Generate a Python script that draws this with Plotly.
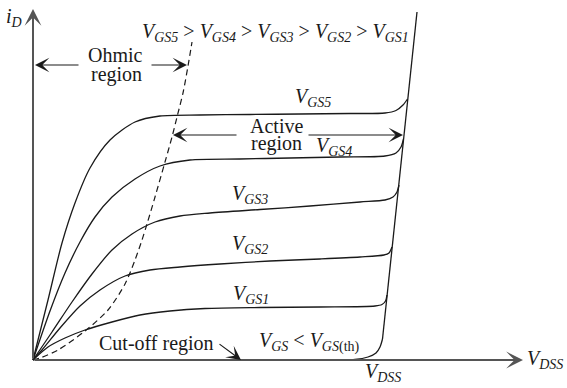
import plotly.graph_objects as go

# Schematic MOSFET output characteristics (V_DS, i_D in arbitrary units)
vgs5_v = [0, 15, 29, 42, 57, 77, 102, 127, 167, 217, 267, 317, 352, 363, 370, 374.5]
vgs5_i = [0, 60, 117, 157, 192, 220, 238, 244, 245, 245.5, 246, 246.5, 247, 249.5, 255, 261]

vgs4_v = [0, 17, 32, 47, 62, 79, 102, 127, 157, 207, 257, 307, 352, 363, 368, 370.5]
vgs4_i = [0, 49, 87, 118, 143, 163, 181, 194, 200, 201, 202, 203, 204, 207, 213, 221]

vgs3_v = [0, 19, 39, 59, 79, 99, 122, 147, 177, 227, 277, 327, 352, 360, 364, 366]
vgs3_i = [0, 28, 58, 86, 110, 126, 138, 144, 147, 150.5, 154, 158, 160, 163, 168, 175]

vgs2_v = [0, 9, 27, 47, 67, 92, 117, 147, 187, 237, 287, 327, 351, 356, 359]
vgs2_i = [0, 10, 32, 54, 70, 84, 90, 93, 96, 99, 101, 103, 105, 107, 113]

vgs1_v = [0, 15, 32, 52, 79, 107, 137, 172, 227, 287, 342, 349, 352.5, 354]
vgs1_i = [0, 13, 22, 30, 38, 45, 49, 51.5, 52.5, 53, 54, 55.5, 59, 65]

cutoff_v = [267, 322, 335, 343, 347, 349.5]
cutoff_i = [0, 0.5, 3, 7, 13, 21]

breakdown_v = [349.5, 384]
breakdown_i = [21, 348]

ohmic_v = [0, 7, 25, 52, 75, 92, 102, 109, 114, 122, 132, 139, 144, 150, 155, 159]
ohmic_i = [0, 2, 10, 29, 50, 76, 100, 120, 136, 163, 198, 223, 243, 267, 294, 318]

axis_x_end = 490
axis_y_end = 351

FONT = "Liberation Serif"
INK = "#1a1a1a"

fig = go.Figure()
curves = [(vgs5_v, vgs5_i), (vgs4_v, vgs4_i), (vgs3_v, vgs3_i),
          (vgs2_v, vgs2_i), (vgs1_v, vgs1_i), (cutoff_v, cutoff_i)]
for xv, yv in curves:
    fig.add_trace(go.Scatter(x=xv, y=yv, mode="lines",
                             line=dict(color=INK, width=1.3, shape="spline", smoothing=0.8),
                             hoverinfo="skip", showlegend=False))
fig.add_trace(go.Scatter(x=breakdown_v, y=breakdown_i, mode="lines",
                         line=dict(color=INK, width=1.3), hoverinfo="skip", showlegend=False))
fig.add_trace(go.Scatter(x=ohmic_v, y=ohmic_i, mode="lines",
                         line=dict(color=INK, width=1.2, dash="6px,4px", shape="spline", smoothing=0.8),
                         hoverinfo="skip", showlegend=False))

ann = []
def arrow(x, y, ax, ay, color=INK, width=1.2, size=2.0):
    ann.append(dict(x=x, y=y, ax=ax, ay=ay, xref="x", yref="y", axref="x", ayref="y",
                    text="", showarrow=True, arrowhead=3, arrowsize=size,
                    arrowwidth=width, arrowcolor=color, standoff=0))

def label(x, y, text, size=20):
    ann.append(dict(x=x, y=y, xref="x", yref="y", text=text, showarrow=False,
                    xanchor="center", yanchor="middle",
                    font=dict(family=FONT, size=size, color=INK)))

# axes
arrow(0, axis_y_end, 0, 0, color="#555555", width=2, size=1.4)
arrow(axis_x_end, 0, 0, 0, color="#555555", width=2, size=1.4)
# region arrows
arrow(2, 295, 47, 295)
arrow(154, 295, 117, 295)
arrow(140, 225, 205, 225)
arrow(370, 225, 274, 225)
arrow(208, 0, 185, 17)

def V(sub):
    return "<i>V</i><sub><i>%s</i></sub>" % sub

label(-19.5, 343, "<i>i</i><sub><i>D</i></sub>")
label(242.5, 328, " > ".join(V("GS%d" % k) for k in [5, 4, 3, 2, 1]))
label(82.5, 305, "Ohmic")
label(83, 286, "region")
label(243.5, 234, "Active")
label(243, 217, "region")
label(279.5, 263, V("GS5"))
label(300.5, 214, V("GS4"))
label(216.5, 166, V("GS3"))
label(216.5, 116, V("GS2"))
label(218, 66, V("GS1"))
label(123, 17, "Cut-off region")
label(276, 18, "<i>V</i><sub><i>GS</i></sub> < <i>V</i><sub><i>GS</i>(th)</sub>")
label(349.5, -12, V("DSS"))
label(512, 1, V("DSS"))

fig.update_layout(
    width=567, height=388, margin=dict(l=0, r=0, t=0, b=0),
    paper_bgcolor="white", plot_bgcolor="white",
    xaxis=dict(range=[-33, 534], visible=False, fixedrange=True),
    yaxis=dict(range=[-28, 360], visible=False, fixedrange=True),
    annotations=ann, showlegend=False,
)
fig.write_html("out.html")
